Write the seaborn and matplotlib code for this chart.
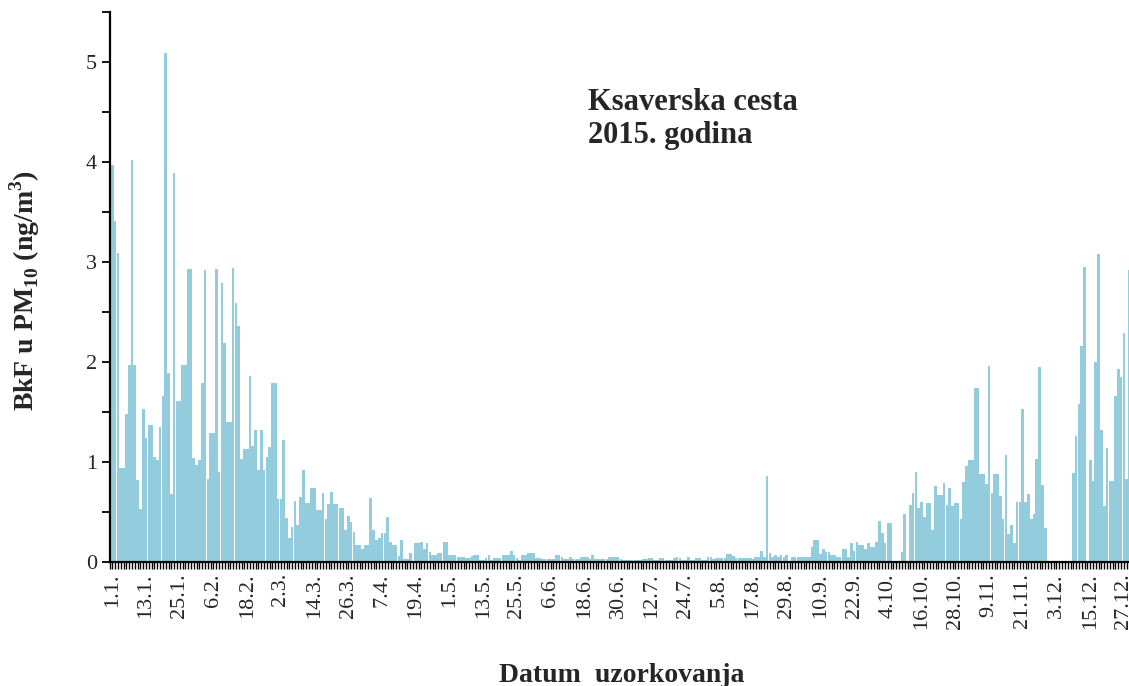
import numpy as np
import pandas as pd
import matplotlib
matplotlib.use("Agg")
import matplotlib.pyplot as plt
from matplotlib.ticker import MultipleLocator
import seaborn as sns

nan = np.nan

# Daily BkF concentration in PM10 (ng/m3), Ksaverska cesta, from 1 January 2015
bkf = [
    3.97, 3.41, 3.09, 0.94, 0.94, 1.48, 1.97, 4.02, 1.97, 0.82,
    0.53, 1.53, 1.24, 1.37, 1.37, 1.05, 1.02, 1.35, 1.66, 5.09,
    1.89, 0.68, 3.89, 1.61, 1.61, 1.97, 1.97, 2.93, 2.93, 1.04,
    0.97, 1.02, 1.79, 2.92, 0.83, 1.29, 1.29, 2.93, 0.90, 2.79,
    2.19, 1.40, 1.40, 2.94, 2.59, 2.36, 1.03, 1.13, 1.13, 1.86,
    1.16, 1.32, 0.92, 1.32, 0.92, 1.05, 1.15, 1.79, 1.79, 0.63,
    0.63, 1.22, 0.44, 0.24, 0.35, 0.61, 0.37, 0.65, 0.92, 0.59,
    0.59, 0.74, 0.74, 0.52, 0.52, 0.69, 0.43, 0.58, 0.70, 0.58,
    0.58, 0.54, 0.54, 0.32, 0.46, 0.40, 0.30, 0.17, 0.17, 0.13,
    0.17, 0.17, 0.64, 0.32, 0.22, 0.24, 0.29, 0.29, 0.45, 0.20,
    0.17, 0.17, 0.06, 0.22, 0.03, 0.03, 0.09, nan, 0.19, 0.19,
    0.20, 0.13, 0.19, 0.10, 0.07, 0.07, 0.09, 0.09, 0.20, 0.20,
    0.07, 0.07, 0.07, 0.05, 0.05, 0.05, 0.04, 0.04, 0.06, 0.07,
    0.07, 0.02, 0.02, 0.04, 0.07, 0.02, 0.04, 0.04, 0.04, 0.07,
    0.07, 0.07, 0.11, 0.07, 0.04, 0.02, 0.07, 0.07, 0.09, 0.09,
    0.09, 0.04, 0.04, 0.03, 0.03, 0.03, 0.03, 0.03, 0.07, 0.07,
    0.05, 0.03, 0.03, 0.05, 0.03, 0.03, 0.03, 0.05, 0.05, 0.05,
    0.03, 0.07, 0.03, 0.03, 0.03, 0.03, 0.03, 0.05, 0.05, 0.05,
    0.05, 0.03, 0.02, 0.02, 0.02, 0.02, 0.02, 0.02, 0.02, 0.03,
    0.03, 0.04, 0.04, 0.02, 0.02, 0.04, 0.04, 0.02, 0.02, 0.02,
    0.04, 0.05, 0.04, 0.02, 0.02, 0.05, 0.02, 0.02, 0.04, 0.04,
    0.02, 0.02, 0.05, 0.05, 0.03, 0.04, 0.04, 0.04, 0.04, 0.08,
    0.08, 0.06, 0.045, 0.045, 0.045, 0.045, 0.045, 0.045, 0.03, 0.05,
    0.05, 0.11, 0.05, 0.86, 0.09, 0.05, 0.07, 0.05, 0.07, 0.05,
    0.07, nan, 0.05, 0.05, 0.05, 0.05, 0.05, 0.05, 0.05, 0.15,
    0.22, 0.22, 0.08, 0.13, 0.10, 0.10, 0.07, 0.07, 0.05, 0.05,
    0.13, 0.13, 0.05, 0.19, 0.11, 0.20, 0.17, 0.17, 0.13, 0.19,
    0.15, 0.15, 0.20, 0.41, 0.29, 0.19, 0.39, 0.39, nan, nan,
    nan, 0.10, 0.48, nan, 0.57, 0.69, 0.90, 0.54, 0.60, 0.45,
    0.59, 0.59, 0.32, 0.76, 0.67, 0.67, 0.79, 0.57, 0.74, 0.56,
    0.59, 0.59, 0.43, 0.80, 0.96, 1.02, 1.02, 1.74, 1.74, 0.88,
    0.88, 0.78, 1.96, 0.69, 0.88, 0.88, 0.66, 0.43, 1.07, 0.28,
    0.37, 0.19, 0.60, 0.60, 1.53, 0.60, 0.68, 0.43, 0.48, 1.03,
    1.95, 0.77, 0.34, nan, nan, nan, nan, nan, nan, nan,
    nan, nan, 0.89, 1.26, 1.58, 2.16, 2.95, nan, 1.02, 0.81,
    2.00, 3.08, 1.32, 0.56, 1.14, 0.81, 0.81, 1.66, 1.93, 1.85,
    2.29, 0.83, 2.92,
]
day_of_year = list(range(1, len(bkf) + 1))

tick_days = [1, 13, 25, 37, 49, 61, 73, 85, 97, 109, 121, 133, 145, 157, 169, 181,
             193, 205, 217, 229, 241, 253, 265, 277, 289, 301, 313, 325, 337, 349, 361]
tick_labels = ["1.1.", "13.1.", "25.1.", "6.2.", "18.2.", "2.3.", "14.3.", "26.3.",
               "7.4.", "19.4.", "1.5.", "13.5.", "25.5.", "6.6.", "18.6.", "30.6.",
               "12.7.", "24.7.", "5.8.", "17.8.", "29.8.", "10.9.", "22.9.", "4.10.",
               "16.10.", "28.10.", "9.11.", "21.11.", "3.12.", "15.12.", "27.12."]

sns.set_style("white")
plt.rcParams["font.family"] = ["Liberation Serif", "DejaVu Serif"]
plt.rcParams["mathtext.fontset"] = "custom"
plt.rcParams["mathtext.rm"] = "Liberation Serif"
plt.rcParams["mathtext.bf"] = "Liberation Serif:bold"

W, H = 1129, 686
fig = plt.figure(figsize=(W / 100, H / 100), dpi=100)
left_px, top_px, bottom_px = 109.5, 12, 562
day_px = 2.81
ax = fig.add_axes([left_px / W, (H - bottom_px) / H, (W - left_px) / W, (bottom_px - top_px) / H])

df = pd.DataFrame({"dan": day_of_year, "BkF": bkf})
sns.barplot(data=df, x="dan", y="BkF", native_scale=True, color="#93CDDD",
            saturation=1, width=0.95, errorbar=None, linewidth=0,
            edgecolor="none", ax=ax)

ax.set_xlim(0.0, (W - left_px) / day_px)
ax.set_ylim(0, 5.5)

ax.set_xticks(tick_days, tick_labels, rotation=90)
ax.xaxis.set_minor_locator(MultipleLocator(1))
ax.set_yticks(range(6))
ax.yaxis.set_minor_locator(MultipleLocator(0.5))
ax.tick_params(axis="x", which="both", direction="out", length=5, width=1,
               color="black", labelsize=16, pad=3, bottom=True)
ax.tick_params(axis="y", which="both", direction="out", length=6, width=1.3,
               color="black", labelsize=16, pad=3, left=True)

for side in ("top", "right"):
    ax.spines[side].set_visible(False)
for side in ("left", "bottom"):
    ax.spines[side].set_color("black")
    ax.spines[side].set_linewidth(1.6)

ax.set_xlabel("Datum  uzorkovanja", fontsize=20, fontweight="bold")
ax.xaxis.label.set_verticalalignment("center")
ax.xaxis.set_label_coords((622 - left_px) / (W - left_px),
                          -(675 - bottom_px) / (bottom_px - top_px))

ax.set_ylabel(r"BkF u PM$_{\mathbf{10}}$ (ng/m$^{\mathbf{3}}$)", fontsize=20,
              fontweight="bold")
ax.yaxis.label.set_verticalalignment("center")
ax.yaxis.set_label_coords(-(left_px - 25) / (W - left_px),
                          (bottom_px - 290) / (bottom_px - top_px))

fig.text(588 / W, 1 - 102 / H, "Ksaverska cesta", fontsize=22, fontweight="bold",
         ha="left", va="center")
fig.text(588 / W, 1 - 135 / H, "2015. godina", fontsize=22, fontweight="bold",
         ha="left", va="center")

fig.savefig("out.png", dpi=100)
